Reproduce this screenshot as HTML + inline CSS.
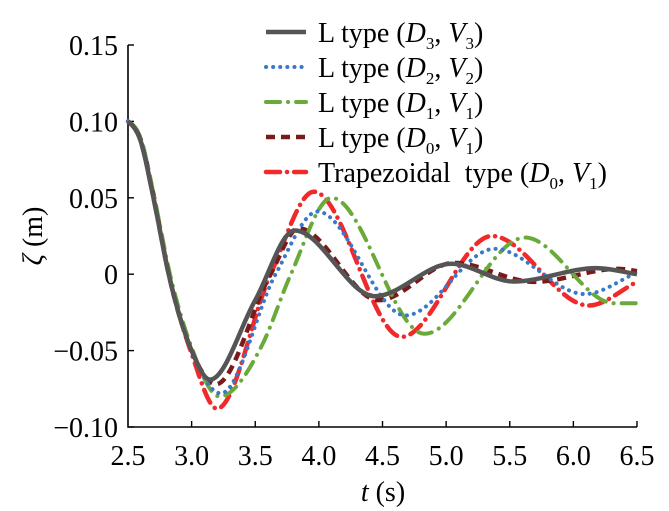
<!DOCTYPE html>
<html><head><meta charset="utf-8"><style>
html,body{margin:0;padding:0;background:#fff;}
svg{display:block;}
text{font-family:"Liberation Serif","Times New Roman","DejaVu Serif",serif;}
</style></head><body>
<svg id="chart" width="669" height="511" viewBox="0 0 669 511">
<g id="axes"></g>
<g id="series"></g>
<g id="legend"></g>
</svg>
<script>
const xTicks=[2.5,3.0,3.5,4.0,4.5,5.0,5.5,6.0,6.5];
const xTickLabels=["2.5","3.0","3.5","4.0","4.5","5.0","5.5","6.0","6.5"];
const yTicks=[0.15,0.10,0.05,0,-0.05,-0.10];
const yTickLabels=["0.15","0.10","0.05","0","\u22120.05","\u22120.10"];
const seriesNames=["L type (D3, V3)","L type (D2, V2)","L type (D1, V1)","L type (D0, V1)","Trapezoidal type (D0, V1)"];
const tD3=[2.5,2.6,2.7,2.82,3.0,3.145,3.5,3.81,4.44,5.04,5.53,6.18,6.5];
const vD3=[0.10,0.087,0.05,0,-0.05,-0.069,-0.017,0.0286,-0.0144,0.0068,-0.0048,0.004,0.0];
const tD2=[2.5,2.6,2.7,2.82,3.0,3.23,3.66,3.99,4.68,5.38,6.09,6.5];
const vD2=[0.10,0.088,0.051,0,-0.05,-0.078,0,0.041,-0.027,0.0166,-0.013,0.001];
const tD1=[2.5,2.6,2.7,2.83,3.0,3.22,3.55,3.78,4.10,4.83,5.62,6.32,6.5];
const vD1=[0.10,0.089,0.053,0,-0.048,-0.08,-0.047,0,0.050,-0.039,0.024,-0.019,-0.019];
const tD0=[2.5,2.6,2.7,2.82,3.0,3.19,3.62,3.84,4.47,5.06,5.69,6.35,6.5];
const vD0=[0.10,0.088,0.052,0,-0.05,-0.072,0,0.030,-0.017,0.0074,-0.005,0.0035,0.002];
const tTr=[2.5,2.6,2.7,2.82,3.0,3.2,3.62,3.96,4.65,5.36,6.12,6.5];
const vTr=[0.10,0.087,0.05,0,-0.052,-0.088,0,0.054,-0.041,0.025,-0.0205,-0.005];

const NS="http://www.w3.org/2000/svg";
const FONT='"Liberation Serif", "Times New Roman", "DejaVu Serif", serif';
const X0=128,X1=637,Y0=45,Y1=427;
function xs(t){return X0+(t-2.5)/4*(X1-X0);}
function ys(v){return Y0+(0.15-v)/0.25*(Y1-Y0);}
function mk(tag,attrs,parent){const e=document.createElementNS(NS,tag);for(const k in attrs)e.setAttribute(k,attrs[k]);if(tag==='text')e.setAttribute('font-family',FONT);parent.appendChild(e);return e;}
const axes=document.getElementById('axes');
let e=mk('path',{d:`M${X0},${Y0} V${Y1} H${X1}`,fill:'none',stroke:'#000','stroke-width':1.6},axes);


xTicks.forEach((t,i)=>{
  const x=xs(t);
  if(i>0){const tk=mk('line',{x1:x,x2:x,y1:Y1,y2:Y1-6,stroke:'#000','stroke-width':1.4},axes);
  
  }
  const tx=mk('text',{x:x,y:Y1+38,'text-anchor':'middle','font-size':28},axes);
  tx.textContent=xTickLabels[i];
  
  
});
yTicks.forEach((v,i)=>{
  const y=ys(v);
  const tk=mk('line',{x1:X0,x2:X0+6,y1:y,y2:y,stroke:'#000','stroke-width':1.4},axes);
  
  
  const tx=mk('text',{x:X0-10,y:y+10,'text-anchor':'end','font-size':28},axes);
  tx.textContent=yTickLabels[i];
  
  
});
let xl=mk('text',{x:383,y:501,'text-anchor':'middle','font-size':28},axes);
xl.innerHTML='<tspan font-style="italic">t</tspan> (s)';


let yl=mk('text',{x:0,y:0,'text-anchor':'middle','font-size':28,transform:'translate(42,236) rotate(-90)'},axes);
yl.innerHTML='<tspan font-style="italic">ζ</tspan> (m)';



function spline(ts,vs){
  const n=ts.length, m=[];
  for(let i=0;i<n;i++){
    if(i===0) m.push((vs[1]-vs[0])/(ts[1]-ts[0])*0.5);
    else if(i===n-1) m.push((vs[i]-vs[i-1])/(ts[i]-ts[i-1]));
    else{
      const d0=(vs[i]-vs[i-1])/(ts[i]-ts[i-1]), d1=(vs[i+1]-vs[i])/(ts[i+1]-ts[i]);
      if(d0*d1<=0) m.push(0);
      else{const h0=ts[i]-ts[i-1],h1=ts[i+1]-ts[i];m.push((d0*h1+d1*h0)/(h0+h1));}
    }
  }
  let d=`M${xs(ts[0])},${ys(vs[0])}`;
  for(let i=0;i<n-1;i++){
    const h=ts[i+1]-ts[i];
    d+=` C${xs(ts[i]+h/3)},${ys(vs[i]+m[i]*h/3)} ${xs(ts[i+1]-h/3)},${ys(vs[i+1]-m[i+1]*h/3)} ${xs(ts[i+1])},${ys(vs[i+1])}`;
  }
  return d;
}
const styles=[
 {c:'#555555',w:4.5,da:'',cap:'butt'},
 {c:'#3a78c8',w:4,da:'0.1 7',cap:'round'},
 {c:'#6aaa3a',w:4,da:'14 8 0.1 8',cap:'round'},
 {c:'#7a1a1a',w:4.5,da:'9 6',cap:'butt'},
 {c:'#f02a2a',w:4.5,da:'14 7 0.1 7',cap:'round'}
];
const data=[[tD3,vD3],[tD2,vD2],[tD1,vD1],[tD0,vD0],[tTr,vTr]];
const seriesG=document.getElementById('series');
const names=['series-l-d3-v3','series-l-d2-v2','series-l-d1-v1','series-l-d0-v1','series-trapezoidal-d0-v1'];
[4,3,2,1,0].forEach(i=>{
  const s=styles[i];
  const pth=mk('path',{d:spline(data[i][0],data[i][1]),fill:'none',stroke:s.c,'stroke-width':s.w,'stroke-dasharray':s.da,'stroke-linecap':s.cap},seriesG);
  
  
});
const leg=document.getElementById('legend');
const subs=[["3","3"],["2","2"],["1","1"],["0","1"]];
for(let i=0;i<5;i++){
  const y=32+i*35;
  const s=styles[i];
  const ln=mk('line',{x1:266,x2:306,y1:y,y2:y,stroke:s.c,'stroke-width':s.w,'stroke-dasharray':s.da,'stroke-linecap':s.cap},leg);
  
  
  const tx=mk('text',{x:318,y:y+10,'font-size':28},leg);
  const pre=i<4?'L type (':'Trapezoidal\u00a0 type (';
  const sd=i<4?subs[i][0]:'0', sv=i<4?subs[i][1]:'1';
  tx.innerHTML=`${pre}<tspan font-style="italic">D</tspan><tspan font-size="17" dy="7">${sd}</tspan><tspan dy="-7">, </tspan><tspan font-style="italic">V</tspan><tspan font-size="17" dy="7">${sv}</tspan><tspan dy="-7">)</tspan>`;
  
  
}
</script>
</body></html>
